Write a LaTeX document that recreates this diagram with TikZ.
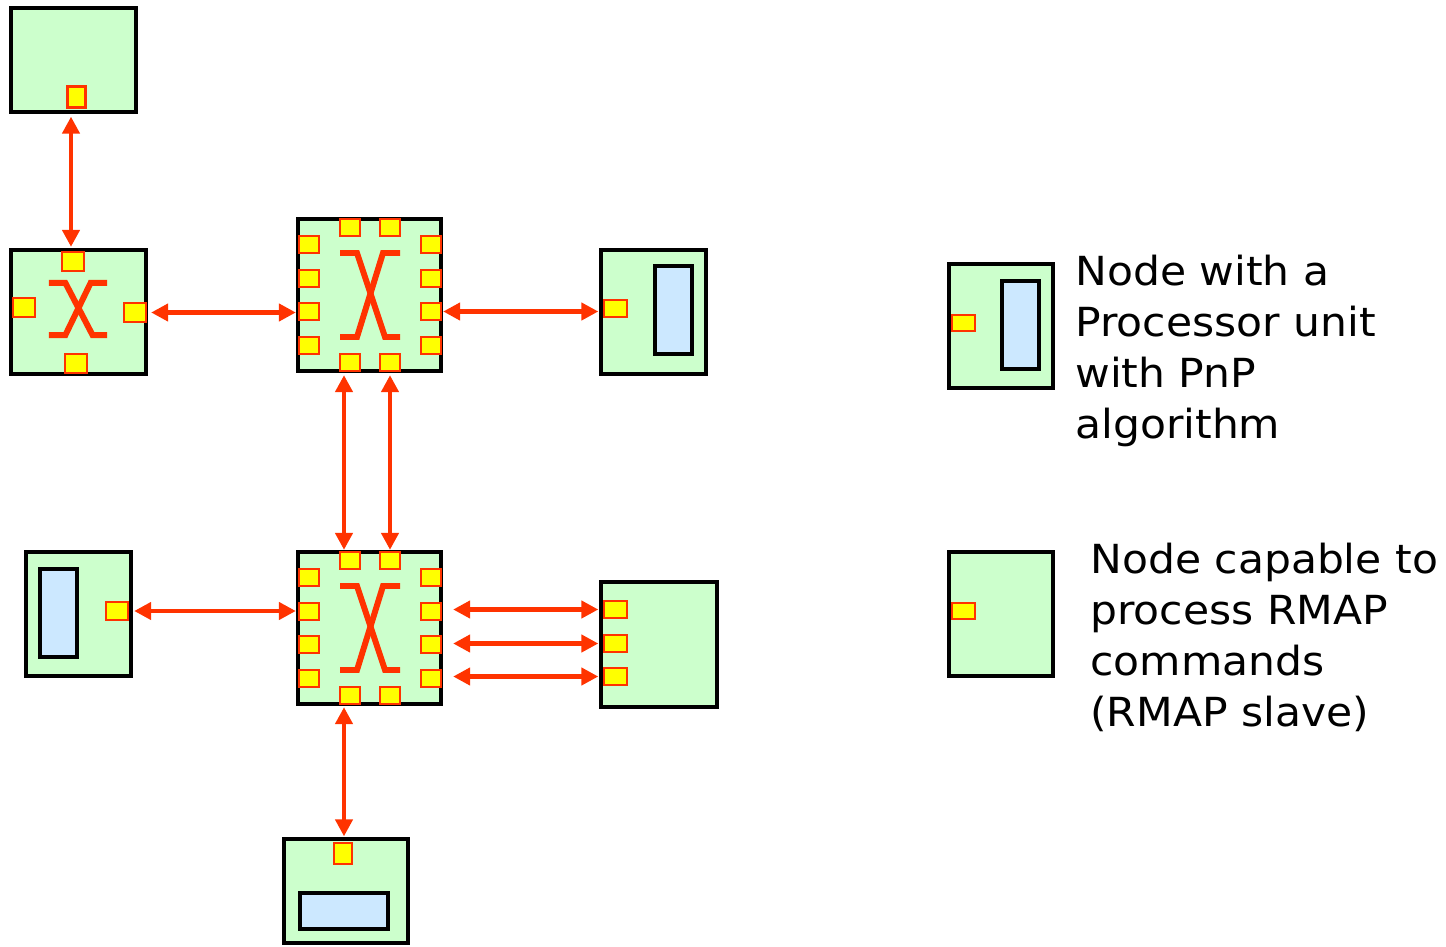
\documentclass[tikz,border=0pt]{standalone}
\usepackage{fontspec}
\setmainfont{DejaVu Sans}[FakeStretch=1.06]
\usepackage{xcolor}
\usetikzlibrary{arrows.meta, positioning}

\definecolor{nodegreen}{RGB}{204,255,204}
\definecolor{portyellow}{RGB}{255,255,0}
\definecolor{linkred}{RGB}{255,51,0}
\definecolor{cpublue}{RGB}{204,232,255}

\begin{document}
\begin{tikzpicture}[
  x=0.02cm, y=-0.02cm,
  unit/.style={rectangle, draw=black, line width=1.9pt, fill=nodegreen, inner sep=0pt},
  cpu/.style={rectangle, draw=black, line width=1.9pt, fill=cpublue, inner sep=0pt},
  port/.style={rectangle, draw=linkred, line width=1.3pt, fill=portyellow, inner sep=0pt, minimum width=0.42cm, minimum height=0.34cm},
  vport/.style={port, minimum width=0.36cm, minimum height=0.42cm},
  link/.style={{Triangle[length=0.34cm,width=0.34cm]}-{Triangle[length=0.34cm,width=0.34cm]}, draw=linkred, line width=2.6pt},
  xline/.style={draw=linkred, line width=3.4pt, line join=miter},
  xcross/.pic={
    \draw[xline] (-30,-42) -- (-13,-42) -- (15,42) -- (30,42);
    \draw[xline] (30,-42) -- (13,-42) -- (-13,42) -- (-30,42);
  },
  legend/.style={align=left, font=\fontsize{22.8}{29}\selectfont, inner sep=0pt, anchor=north west},
]
  \path[use as bounding box] (0,0) rectangle (1446,946);

  % end nodes
  \node[unit, minimum width=2.5cm, minimum height=2.08cm] (term1) at (73.5,60) {};
  \node[vport] (term1-p) at (76.5,97) {};

  \node[unit, minimum width=2.1cm, minimum height=2.48cm] (term2) at (653.5,312) {};
  \node[port, minimum width=0.46cm] (term2-p) at (615.5,308.5) {};
  \node[cpu, minimum width=0.74cm, minimum height=1.76cm] (term2-cpu) at (673.5,310) {};

  \node[unit, minimum width=2.1cm, minimum height=2.48cm] (term3) at (78.5,614) {};
  \node[port, minimum width=0.44cm, minimum height=0.36cm] (term3-p) at (117,611) {};
  \node[cpu, minimum width=0.74cm, minimum height=1.76cm] (term3-cpu) at (58.5,613) {};

  \node[unit, minimum width=2.32cm, minimum height=2.5cm] (term4) at (659,644.5) {};
  \foreach \i/\y in {1/609.5, 2/643.5, 3/676.5}
    \node[port, minimum width=0.46cm] (term4-p\i) at (615.5,\y) {};

  \node[unit, minimum width=2.48cm, minimum height=2.08cm] (term5) at (346,891) {};
  \node[vport] (term5-p) at (343,853.5) {};
  \node[cpu, minimum width=1.76cm, minimum height=0.72cm] (term5-cpu) at (344,911) {};

  % routers
  \node[unit, minimum width=2.7cm, minimum height=2.48cm] (sw1) at (78.5,312) {};
  \node[port, minimum width=0.44cm, minimum height=0.38cm] (sw1-t) at (73,261.5) {};
  \node[port, minimum width=0.44cm, minimum height=0.38cm] (sw1-l) at (24,307.5) {};
  \node[port, minimum width=0.44cm, minimum height=0.38cm] (sw1-r) at (135,312.5) {};
  \node[port, minimum width=0.44cm, minimum height=0.38cm] (sw1-b) at (76,363.5) {};
  \pic[xscale=0.97, yscale=0.62] at (78,309) {xcross};

  \node[unit, minimum width=2.86cm, minimum height=3.04cm] (sw2) at (369.5,295) {};
  \foreach \i/\y in {1/244.5, 2/278.5, 3/311.5, 4/345.5} {
    \node[port, minimum width=0.4cm] (sw2-l\i) at (309,\y) {};
    \node[port, minimum width=0.4cm] (sw2-r\i) at (431,\y) {};
  }
  \foreach \i/\x in {1/350, 2/390} {
    \node[port, minimum width=0.4cm] (sw2-t\i) at (\x,227.5) {};
    \node[port, minimum width=0.4cm] (sw2-b\i) at (\x,362.5) {};
  }
  \pic at (370,295) {xcross};

  \node[unit, minimum width=2.86cm, minimum height=3.04cm] (sw3) at (369.5,628) {};
  \foreach \i/\y in {1/577.5, 2/611.5, 3/644.5, 4/678.5} {
    \node[port, minimum width=0.4cm] (sw3-l\i) at (309,\y) {};
    \node[port, minimum width=0.4cm] (sw3-r\i) at (431,\y) {};
  }
  \foreach \i/\x in {1/350, 2/390} {
    \node[port, minimum width=0.4cm] (sw3-t\i) at (\x,560.5) {};
    \node[port, minimum width=0.4cm] (sw3-b\i) at (\x,695.5) {};
  }
  \pic at (370,628) {xcross};

  % links
  \draw[link, shorten <=0.06cm, shorten >=0.08cm] ([xshift=-0.04cm]term1.south -| sw1-t) -- ([xshift=-0.04cm]sw1-t.north);
  \draw[link, shorten <=0.08cm, shorten >=0.04cm] (sw1-r.east) -- (sw2-l3.west |- sw1-r);
  \draw[link, shorten <=0.02cm, shorten >=0.02cm] (sw2-r3.east) -- (term2.west |- sw2-r3);
  \draw[link, shorten <=0.06cm, shorten >=0.02cm] ([xshift=-0.12cm]sw2-b1.south) -- ([xshift=-0.12cm]sw3-t1.north);
  \draw[link, shorten <=0.06cm, shorten >=0.02cm] (sw2-b2.south) -- (sw3-t2.north);
  \draw[link, shorten <=0.1cm, shorten >=0.04cm] (term3-p.east) -- (sw3-l2.west |- term3-p);
  \foreach \i/\j in {1/2, 2/3, 3/4}
    \draw[link, shorten <=0.22cm, shorten >=0.02cm] (sw3-r\j.east |- term4-p\i) -- (term4.west |- term4-p\i);
  \draw[link, shorten <=0.04cm, shorten >=0.02cm] ([xshift=-0.12cm]sw3-b1.south) -- ([xshift=-0.12cm]term5.north -| sw3-b1);

  % legend
  \node[unit, minimum width=2.08cm, minimum height=2.48cm] (leg1) at (1001,326) {};
  \node[port, minimum width=0.46cm, minimum height=0.32cm] (leg1-p) at (963.5,323) {};
  \node[cpu, minimum width=0.74cm, minimum height=1.76cm] (leg1-cpu) at (1020.5,325) {};
  \node[legend] (leg1-txt) at (1075,255) {Node with a\\Processor unit\\with PnP\\algorithm};

  \node[unit, minimum width=2.08cm, minimum height=2.48cm] (leg2) at (1001,614) {};
  \node[port, minimum width=0.46cm, minimum height=0.32cm] (leg2-p) at (963.5,611) {};
  \node[legend] (leg2-txt) at (1090,543) {Node capable to\\process RMAP\\commands\\(RMAP slave)};
\end{tikzpicture}
\end{document}
